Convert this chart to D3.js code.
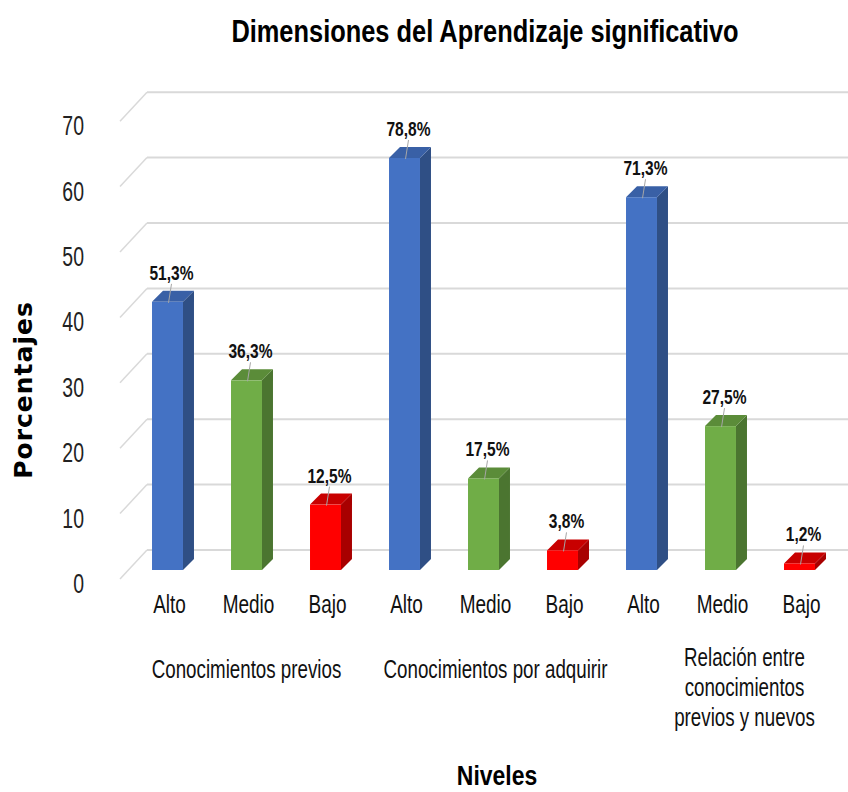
<!DOCTYPE html>
<html>
<head>
<meta charset="utf-8">
<script src="https://cdn.jsdelivr.net/npm/d3@7"></script>
<style>
  body { margin: 0; background: #fff; }
  text { font-family: "Liberation Sans", Arial, sans-serif; fill: #000; }
</style>
</head>
<body>
<div id="chart"></div>
<script>
const groups = ["Conocimientos previos", "Conocimientos por adquirir", "Relación entre conocimientos previos y nuevos"];
const groupLines = [["Conocimientos previos"], ["Conocimientos por adquirir"], ["Relación entre", "conocimientos", "previos y nuevos"]];
const levels = ["Alto", "Medio", "Bajo"];
// counts per group (Alto, Medio, Bajo)
const counts = [[41, 29, 10], [63, 14, 3], [57, 22, 1]];
const percents = [["51,3%", "36,3%", "12,5%"], ["78,8%", "17,5%", "3,8%"], ["71,3%", "27,5%", "1,2%"]];
const yTicks = [0, 10, 20, 30, 40, 50, 60, 70];

const width = 848, height = 792;

const colors = {
  Alto:  { front: "#4472C4", side: "#2F4F85", top: "#3960A6" },
  Medio: { front: "#70AD47", side: "#4B7530", top: "#5B8C39" },
  Bajo:  { front: "#FF0000", side: "#A80000", top: "#C80000" }
};

// flatten into bars
let bars = [];
groups.forEach((g, gi) => {
  levels.forEach((l, li) => {
    bars.push({ id: gi * 3 + li, group: g, level: l, value: counts[gi][li], label: percents[gi][li] });
  });
});

const svg = d3.select('#chart')
  .append('svg')
  .attr('width', width)
  .attr('height', height);

// 3d offsets
const wallDx = -27, wallDy = 29;   // back wall -> front edge of floor
const barDx = 11, barDy = -11;     // bar depth

let x = d3.scaleBand()
  .domain(bars.map(d => d.id))
  .range([128, 839])
  .paddingInner(0.608)
  .paddingOuter(0.304);

let yBack = d3.scaleLinear().domain([0, 70]).range([550, 92.2]);
let yFront = d3.scaleLinear().domain([0, 70]).range([570, 112.2]);

function sText(sel, tx, ty, sx, txt) {
  return sel.append('text')
    .attr('transform', 'translate(' + tx + ',' + ty + ') scale(' + sx + ',1)')
    .text(txt);
}

// title
sText(svg, 485, 42, 0.82, 'Dimensiones del Aprendizaje significativo')
  .attr('text-anchor', 'middle')
  .style('font-size', '31px')
  .style('font-weight', 'bold');

// grid: back wall lines + side diagonals
const grid = svg.append('g');
grid.selectAll('line.back')
  .data(yTicks)
  .enter()
  .append('line')
    .attr('class', 'back')
    .attr('x1', 147).attr('x2', width)
    .attr('y1', d => yBack(d)).attr('y2', d => yBack(d))
    .attr('stroke', '#d9d9d9')
    .attr('stroke-width', 2);
grid.selectAll('line.diag')
  .data(yTicks)
  .enter()
  .append('line')
    .attr('class', 'diag')
    .attr('x1', 147).attr('x2', 147 + wallDx)
    .attr('y1', d => yBack(d)).attr('y2', d => yBack(d) + wallDy)
    .attr('stroke', '#d9d9d9')
    .attr('stroke-width', 1.5);

// y tick labels
yTicks.forEach(t => {
  sText(svg, 84, yBack(t) + 43, 0.72, t)
    .attr('text-anchor', 'end')
    .style('font-size', '27px')
    .style('fill', '#222');
});

// bars
const barG = svg.append('g');
const bw = x.bandwidth();
const base = yFront(0);

bars.forEach(d => {
  const x0 = x(d.id);
  const yt = yFront(d.value);
  const c = colors[d.level];
  const g = barG.append('g');
  g.append('polygon')
    .attr('points', [[x0 + bw, yt], [x0 + bw + barDx, yt + barDy], [x0 + bw + barDx, base + barDy], [x0 + bw, base]].join(' '))
    .attr('fill', c.side);
  g.append('polygon')
    .attr('points', [[x0, yt], [x0 + barDx, yt + barDy], [x0 + bw + barDx, yt + barDy], [x0 + bw, yt]].join(' '))
    .attr('fill', c.top);
  g.append('rect')
    .attr('x', x0)
    .attr('y', yt)
    .attr('width', bw)
    .attr('height', base - yt)
    .attr('fill', c.front);
});

// data labels with leader lines
bars.forEach(d => {
  const cx = x(d.id) + bw / 2;
  const yt = yFront(d.value);
  barG.append('line')
    .attr('x1', cx + 4).attr('y1', yt - 18)
    .attr('x2', cx + 1).attr('y2', yt + 1)
    .attr('stroke', '#a6a6a6')
    .attr('stroke-width', 1);
  sText(barG, cx + 4, yt - 22, 0.74, d.label)
    .attr('text-anchor', 'middle')
    .style('font-size', '21px')
    .style('font-weight', 'bold')
    .style('fill', '#111');
});

// category labels
bars.forEach(d => {
  sText(svg, x(d.id) + bw / 2 + 2, 613, 0.73, d.level)
    .attr('text-anchor', 'middle')
    .style('font-size', '26px')
    .style('fill', '#111');
});

// group labels, centred on the group's middle bar
groupLines.forEach((lines, gi) => {
  const mid = x(gi * 3 + 1) + bw / 2 + gi * 12;
  const y0 = 678 - (lines.length - 1) * 6;
  lines.forEach((ln, k) => {
    sText(svg, mid, y0 + k * 30, 0.75, ln)
      .attr('text-anchor', 'middle')
      .style('font-size', '25px')
      .style('fill', '#111');
  });
});

// axis titles
svg.append('text')
  .attr('transform', 'translate(32,390) rotate(-90)')
  .attr('text-anchor', 'middle')
  .style('font-family', '"DejaVu Sans", sans-serif')
  .style('font-size', '25px')
  .style('font-weight', 'bold')
  .style('letter-spacing', '1px')
  .text('Porcentajes');

sText(svg, 497, 785, 0.82, 'Niveles')
  .attr('text-anchor', 'middle')
  .style('font-size', '28px')
  .style('font-weight', 'bold');
</script>
</body>
</html>
